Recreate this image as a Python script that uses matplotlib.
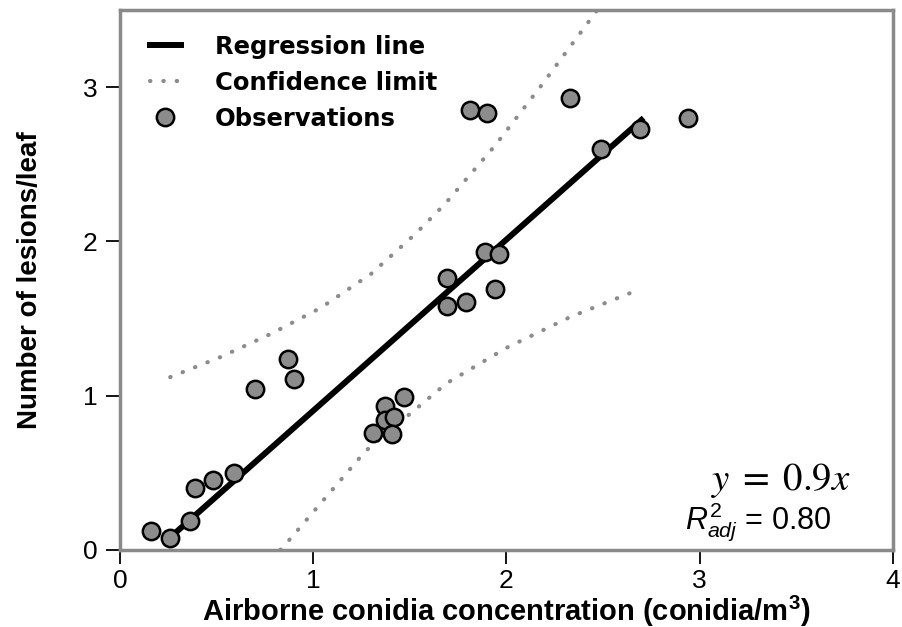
import matplotlib.pyplot as plt
from matplotlib.lines import Line2D

# observations
conc = [0.16, 0.26, 0.36, 0.39, 0.48, 0.59, 0.70, 0.87, 0.90, 1.31, 1.37, 1.37,
        1.42, 1.41, 1.47, 1.69, 1.69, 1.79, 1.81, 1.90, 1.89, 1.96, 1.94, 2.33,
        2.49, 2.69, 2.94]
lesions = [0.12, 0.08, 0.19, 0.40, 0.45, 0.50, 1.04, 1.24, 1.11, 0.76, 0.93, 0.84,
           0.86, 0.75, 0.99, 1.76, 1.58, 1.61, 2.85, 2.83, 1.93, 1.92, 1.69, 2.93,
           2.60, 2.73, 2.80]

reg_x = [0.25, 2.71]
reg_y = [0.07, 2.80]

upper_x = [0.26, 0.52, 0.78, 1.04, 1.30, 1.53, 1.68, 1.94, 2.18, 2.47]
upper_y = [1.12, 1.25, 1.40, 1.57, 1.79, 2.05, 2.24, 2.62, 3.01, 3.50]
lower_x = [0.83, 0.88, 1.27, 1.69, 2.00, 2.33, 2.67]
lower_y = [0.00, 0.07, 0.64, 1.08, 1.31, 1.51, 1.68]

x_ticks = [0, 1, 2, 3, 4]
y_ticks = [0, 1, 2, 3]

plt.rcParams['mathtext.fontset'] = 'custom'
plt.rcParams['mathtext.it'] = 'Liberation Sans:italic'
plt.rcParams['mathtext.rm'] = 'Liberation Sans'
plt.rcParams['mathtext.bf'] = 'Liberation Sans:bold'

fig = plt.figure(figsize=(9.02, 6.27), dpi=100)
ax = fig.add_axes([0.133, 0.123, 0.857, 0.861])

ax.plot(upper_x, upper_y, color='#8c8c8c', lw=3, ls=(0, (0.1, 3.1)),
        dash_capstyle='round', zorder=2)
ax.plot(lower_x, lower_y, color='#8c8c8c', lw=3, ls=(0, (0.1, 3.1)),
        dash_capstyle='round', zorder=2)
ax.plot(reg_x, reg_y, color='black', lw=4.3, solid_capstyle='butt', zorder=3)
ax.plot(conc, lesions, 'o', ms=12.5, mfc='#8c8c8c', mec='black', mew=1.8,
        zorder=4)

ax.set_xlim(0, 4)
ax.set_ylim(0, 3.5)
ax.set_xticks(x_ticks)
ax.set_yticks(y_ticks)
ax.set_xticklabels([str(t) for t in x_ticks], family='Liberation Sans', fontsize=19)
ax.set_yticklabels([str(t) for t in y_ticks], family='Liberation Sans', fontsize=19)
ax.tick_params(direction='out', length=10, width=1.3, color='black', pad=6)
ax.tick_params(axis='x', pad=4)
for s in ax.spines.values():
    s.set_color('#8a8a8a')
    s.set_linewidth(2.5)

ax.set_xlabel('Airborne conidia concentration (conidia/m$^{\\mathbf{3}}$)',
              family='Liberation Sans', fontweight='bold', fontsize=21,
              labelpad=0)
ax.set_ylabel('Number of lesions/leaf', family='Liberation Sans', fontweight='bold',
              fontsize=20, labelpad=29)

handles = [
    Line2D([], [], color='black', lw=4.3),
    Line2D([], [], color='#8c8c8c', lw=3, ls=(0, (0.1, 3.1)),
           dash_capstyle='round'),
    Line2D([], [], ls='none', marker='o', ms=12.5, mfc='#8c8c8c', mec='black',
           mew=1.8),
]
ax.legend(handles, ['Regression line', 'Confidence limit', 'Observations'],
          loc='upper left', bbox_to_anchor=(0.01, 0.995), frameon=False,
          prop={'family': 'DejaVu Sans', 'weight': 'bold', 'size': 17.5},
          handlelength=1.3, handletextpad=1.4, labelspacing=0.5)

ax.text(0.855, 0.11, '$y\\;=\\;0.9x$', transform=ax.transAxes, ha='center',
        fontsize=28, math_fontfamily='stix')
ax.text(0.825, 0.04, '$R^2_{adj}$ = 0.80', transform=ax.transAxes, ha='center',
        family='Liberation Sans', fontsize=22)

fig.savefig('out.png', dpi=100)
